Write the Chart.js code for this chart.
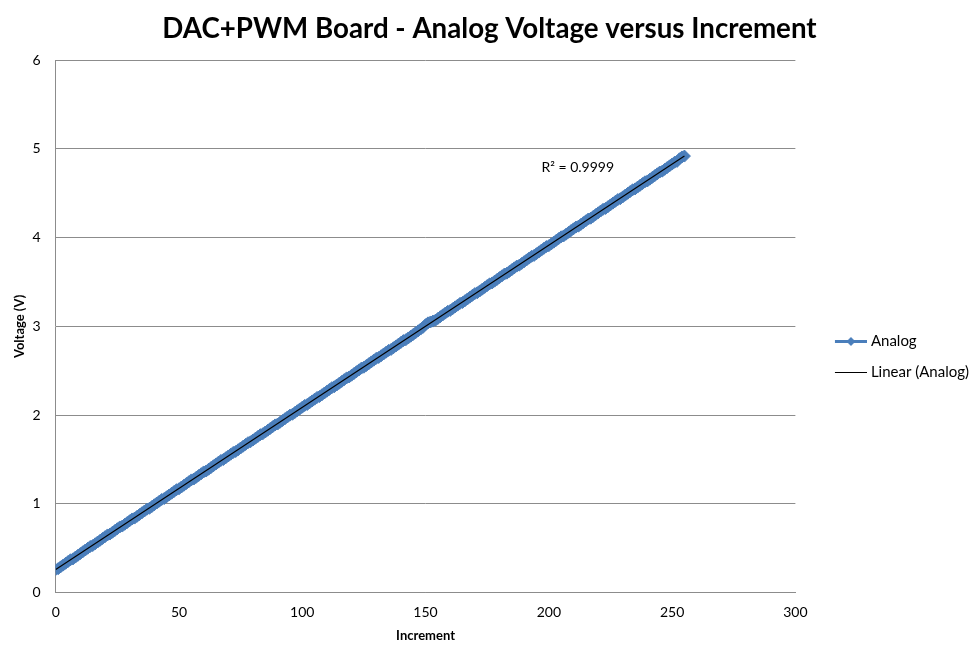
<!DOCTYPE html>
<html>
<head>
<meta charset="utf-8">
<script src="https://cdn.jsdelivr.net/npm/chart.js@4.4.0/dist/chart.umd.min.js"></script>
<style>
  html, body { margin: 0; padding: 0; background: #fff; }
  #wrap { width: 975px; height: 648px; }
</style>
</head>
<body>
<div id="wrap"><canvas id="chartDac"></canvas></div>
<script>
const increments = Array.from({ length: 256 }, (_, i) => i);
const voltages = [
    0.26, 0.27, 0.29, 0.31, 0.33, 0.35, 0.37, 0.38, 0.40, 0.42,
    0.44, 0.46, 0.48, 0.50, 0.52, 0.53, 0.55, 0.57, 0.59, 0.61,
    0.63, 0.65, 0.66, 0.68, 0.70, 0.72, 0.74, 0.75, 0.77, 0.79,
    0.81, 0.83, 0.84, 0.86, 0.88, 0.90, 0.92, 0.94, 0.95, 0.97,
    0.99, 1.01, 1.03, 1.05, 1.06, 1.08, 1.10, 1.12, 1.14, 1.16,
    1.17, 1.19, 1.21, 1.23, 1.25, 1.27, 1.28, 1.30, 1.32, 1.34,
    1.36, 1.37, 1.39, 1.41, 1.43, 1.45, 1.47, 1.49, 1.50, 1.52,
    1.54, 1.56, 1.58, 1.59, 1.61, 1.63, 1.65, 1.67, 1.69, 1.70,
    1.72, 1.74, 1.76, 1.78, 1.79, 1.81, 1.83, 1.85, 1.87, 1.89,
    1.90, 1.92, 1.94, 1.96, 1.98, 2.00, 2.01, 2.03, 2.05, 2.07,
    2.09, 2.11, 2.12, 2.14, 2.16, 2.18, 2.20, 2.21, 2.23, 2.25,
    2.27, 2.29, 2.31, 2.32, 2.34, 2.36, 2.38, 2.40, 2.42, 2.43,
    2.45, 2.47, 2.49, 2.51, 2.53, 2.54, 2.56, 2.58, 2.60, 2.62,
    2.64, 2.65, 2.67, 2.69, 2.71, 2.73, 2.74, 2.76, 2.78, 2.80,
    2.82, 2.84, 2.85, 2.87, 2.89, 2.91, 2.93, 2.95, 2.97, 2.99,
    3.02, 3.04, 3.05, 3.06, 3.07, 3.09, 3.11, 3.13, 3.15, 3.17,
    3.18, 3.20, 3.22, 3.24, 3.26, 3.27, 3.29, 3.31, 3.33, 3.35,
    3.37, 3.38, 3.40, 3.42, 3.44, 3.46, 3.48, 3.49, 3.51, 3.53,
    3.55, 3.57, 3.59, 3.60, 3.62, 3.64, 3.66, 3.68, 3.69, 3.71,
    3.73, 3.75, 3.77, 3.79, 3.80, 3.82, 3.84, 3.86, 3.88, 3.90,
    3.91, 3.93, 3.95, 3.97, 3.99, 4.01, 4.02, 4.04, 4.06, 4.08,
    4.10, 4.12, 4.13, 4.15, 4.17, 4.19, 4.21, 4.22, 4.24, 4.26,
    4.28, 4.30, 4.32, 4.33, 4.35, 4.37, 4.39, 4.41, 4.43, 4.44,
    4.46, 4.48, 4.50, 4.52, 4.54, 4.55, 4.57, 4.59, 4.61, 4.63,
    4.64, 4.66, 4.68, 4.70, 4.72, 4.74, 4.75, 4.77, 4.79, 4.81,
    4.83, 4.85, 4.86, 4.89, 4.91, 4.92,
];
const xTicks = [0, 50, 100, 150, 200, 250, 300];
const yTicks = [0, 1, 2, 3, 4, 5, 6];
const rSquaredLabel = 'R² = 0.9999';

const palette = {
    blue: '#4A7EBB',
    black: '#000000',
    grid: '#8C8C8C',
    text: '#000000',
};
const font = 'Lato, "Open Sans", sans-serif';

// least squares fit, like Excel's linear trendline
function linearFit(xs, ys) {
    const n = xs.length;
    const mx = xs.reduce((a, b) => a + b, 0) / n;
    const my = ys.reduce((a, b) => a + b, 0) / n;
    let sxy = 0, sxx = 0;
    for (let i = 0; i < n; i++) {
        sxy += (xs[i] - mx) * (ys[i] - my);
        sxx += (xs[i] - mx) ** 2;
    }
    const slope = sxy / sxx;
    return { slope, intercept: my - slope * mx };
}

const fit = linearFit(increments, voltages);
const xFirst = increments[0];
const xLast = increments[increments.length - 1];

// legend swatch: the box is wider than the swatch so there is a gap to the plot
const legendBoxWidth = 52;
function legendIcon(withMarker, color, lineWidth) {
    const c = document.createElement('canvas');
    c.width = legendBoxWidth + 7;
    c.height = 12;
    const g = c.getContext('2d');
    const x0 = c.width - 32;
    g.strokeStyle = color;
    g.lineWidth = lineWidth;
    g.beginPath();
    g.moveTo(x0, 6.5);
    g.lineTo(c.width, 6.5);
    g.stroke();
    if (withMarker) {
        const cx = x0 + 16;
        g.fillStyle = color;
        g.beginPath();
        g.moveTo(cx, 2);
        g.lineTo(cx + 4.5, 6.5);
        g.lineTo(cx, 11);
        g.lineTo(cx - 4.5, 6.5);
        g.closePath();
        g.fill();
    }
    return c;
}

const rSquaredPlugin = {
    id: 'rSquared',
    afterDatasetsDraw(chart) {
        const { ctx, scales } = chart;
        ctx.save();
        ctx.font = '14px ' + font;
        ctx.fillStyle = palette.text;
        ctx.textAlign = 'left';
        ctx.textBaseline = 'middle';
        ctx.fillText(rSquaredLabel, scales.x.getPixelForValue(197), scales.y.getPixelForValue(4.79));
        ctx.restore();
    },
};

new Chart(document.getElementById('chartDac'), {
    type: 'scatter',
    data: {
        datasets: [
            {
                label: 'Analog',
                data: increments.map((x, i) => ({ x, y: voltages[i] })),
                showLine: true,
                borderColor: palette.blue,
                borderWidth: 5,
                backgroundColor: palette.blue,
                pointStyle: 'rectRot',
                pointRadius: 6,
                pointBorderColor: palette.blue,
                pointBorderWidth: 1,
                order: 1,
            },
            {
                label: 'Linear (Analog)',
                data: [
                    { x: xFirst, y: fit.intercept + fit.slope * xFirst },
                    { x: xLast, y: fit.intercept + fit.slope * xLast },
                ],
                showLine: true,
                borderColor: palette.black,
                borderWidth: 1.2,
                pointRadius: 0,
                order: 0,
            },
        ],
    },
    options: {
        responsive: true,
        maintainAspectRatio: false,
        animation: false,
        layout: { padding: { top: 4, right: -4, bottom: 4, left: 0 } },
        plugins: {
            title: {
                display: true,
                text: 'DAC+PWM Board - Analog Voltage versus Increment',
                color: palette.text,
                font: { family: font, size: 27.7, weight: 'bold' },
                padding: { top: 8, bottom: 15 },
            },
            legend: {
                position: 'right',
                align: 'center',
                title: { display: true, text: ' ', font: { size: 10 }, padding: { top: 0, bottom: 53 } },
                labels: {
                    color: palette.text,
                    font: { family: font, size: 15 },
                    usePointStyle: true,
                    pointStyleWidth: legendBoxWidth,
                    padding: 16,
                    generateLabels: () => [
                        { text: 'Analog', pointStyle: legendIcon(true, palette.blue, 3), fontColor: palette.text, datasetIndex: 0, lineWidth: 0 },
                        { text: 'Linear (Analog)', pointStyle: legendIcon(false, palette.black, 1), fontColor: palette.text, datasetIndex: 1, lineWidth: 0 },
                    ],
                },
            },
            tooltip: { enabled: false },
        },
        scales: {
            x: {
                type: 'linear',
                min: 0,
                max: 300,
                afterBuildTicks: (axis) => { axis.ticks = xTicks.map((value) => ({ value })); },
                ticks: { color: palette.text, font: { family: font, size: 14 }, padding: 11 },
                grid: { display: true, drawOnChartArea: false, drawTicks: false },
                border: { display: true, color: palette.grid, width: 1 },
                title: {
                    display: true,
                    text: 'Increment',
                    color: palette.text,
                    font: { family: font, size: 13, weight: 'bold' },
                    padding: { top: -3, bottom: 0 },
                },
            },
            y: {
                type: 'linear',
                min: 0,
                max: 6,
                afterBuildTicks: (axis) => { axis.ticks = yTicks.map((value) => ({ value })); },
                ticks: { color: palette.text, font: { family: font, size: 14 }, padding: 15 },
                grid: { color: palette.grid, drawTicks: false },
                border: { display: true, color: palette.grid, width: 1 },
                title: {
                    display: true,
                    text: 'Voltage (V)',
                    color: palette.text,
                    font: { family: font, size: 13, weight: 'bold' },
                    padding: { top: 12, bottom: -10 },
                },
            },
        },
    },
    plugins: [rSquaredPlugin],
});
</script>
</body>
</html>
